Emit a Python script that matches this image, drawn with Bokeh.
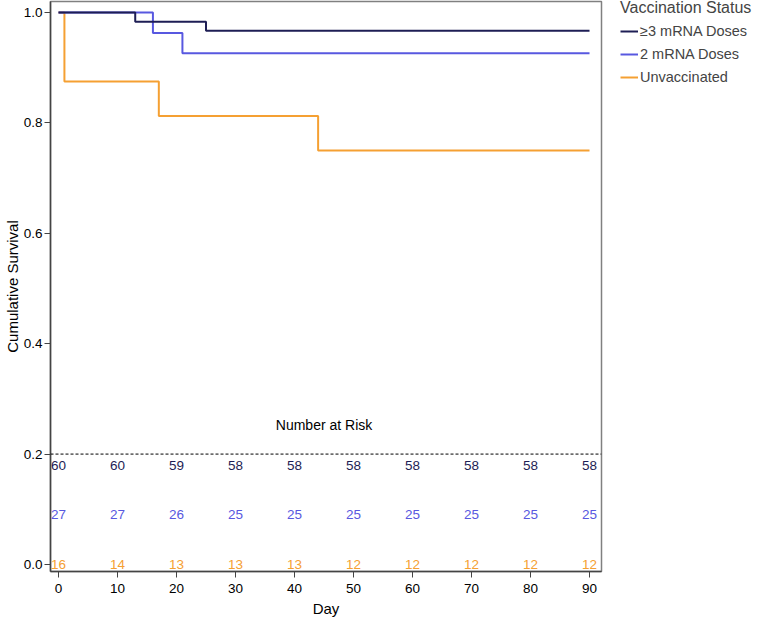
from bokeh.plotting import figure
from bokeh.models import Legend, LegendItem, Span, FixedTicker, Range1d
from bokeh.core.properties import value
from bokeh.embed import file_html
from bokeh.resources import INLINE

# ---- data ----
days_3 = [0, 13, 25, 90]
surv_3 = [1.0, 0.9833, 0.9667, 0.9667]
days_2 = [0, 16, 21, 90]
surv_2 = [1.0, 0.963, 0.926, 0.926]
days_u = [0, 1, 17, 44, 90]
surv_u = [1.0, 0.875, 0.8125, 0.75, 0.75]

risk_days = [0, 10, 20, 30, 40, 50, 60, 70, 80, 90]
risk_3 = [60, 60, 59, 58, 58, 58, 58, 58, 58, 58]
risk_2 = [27, 27, 26, 25, 25, 25, 25, 25, 25, 25]
risk_u = [16, 14, 13, 13, 13, 12, 12, 12, 12, 12]

labels = ["\u22653 mRNA Doses", "2 mRNA Doses", "Unvaccinated"]
colors = ["#1e1e55", "#5858e0", "#f5a032"]

x_ticks = [0, 10, 20, 30, 40, 50, 60, 70, 80, 90]
y_ticks = [0.0, 0.2, 0.4, 0.6, 0.8, 1.0]

FONT = "Liberation Sans"

p = figure(frame_width=551, frame_height=570, output_backend="svg",
           toolbar_location=None, x_range=Range1d(-1.36, 92.03),
           y_range=Range1d(-0.0127, 1.0199), min_border_left=0,
           min_border_top=1, min_border_bottom=0, min_border_right=165)
p.background_fill_color = "white"
p.border_fill_color = "white"
p.outline_line_color = "#808080"
p.outline_line_width = 1.5
p.xgrid.visible = False
p.ygrid.visible = False

# curves (orange first, navy on top)
r_u = p.step(days_u, surv_u, mode="after", line_color=colors[2], line_width=2)
r_2 = p.step(days_2, surv_2, mode="after", line_color=colors[1], line_width=2)
r_3 = p.step(days_3, surv_3, mode="after", line_color=colors[0], line_width=2)

# number at risk
p.add_layout(Span(location=0.2, dimension="width", line_color="black",
                  line_width=1, line_dash="3 2"))
p.text(x=[45], y=[0.252], text=["Number at Risk"], text_align="center",
       text_baseline="middle", text_font=value(FONT), text_font_size="14px",
       text_color="black")
for vals, yy, c in [(risk_3, 0.179, colors[0]), (risk_2, 0.0906, colors[1]),
                    (risk_u, 0.0, colors[2])]:
    p.text(x=risk_days, y=[yy] * len(risk_days), text=[str(v) for v in vals],
           text_align="center", text_baseline="middle",
           text_font=value(FONT), text_font_size="13.5px", text_color=c)

# axes
for ax in (p.xaxis[0], p.yaxis[0]):
    ax.major_label_text_font = FONT
    ax.major_label_text_font_size = "13.5px"
    ax.major_label_text_color = "black"
    ax.axis_label_text_font = FONT
    ax.axis_label_text_font_size = "15px"
    ax.axis_label_text_font_style = "normal"
    ax.axis_label_text_color = "black"
    ax.major_tick_out = 6
    ax.major_tick_in = 0
    ax.minor_tick_out = 0
    ax.minor_tick_in = 0
    ax.axis_line_color = "#444444"
    ax.major_tick_line_color = "#444444"
    ax.axis_line_width = 1.5
p.xaxis.ticker = FixedTicker(ticks=x_ticks)
p.yaxis.ticker = FixedTicker(ticks=y_ticks)
p.yaxis.major_label_overrides = {t: f"{t:.1f}" for t in y_ticks}
p.xaxis.axis_label = "Day"
p.yaxis.axis_label = "Cumulative Survival"
p.xaxis.major_label_standoff = 6
p.xaxis.axis_label_standoff = 4
p.yaxis.major_label_standoff = 2
p.yaxis.axis_label_standoff = 0

legend = Legend(items=[LegendItem(label=labels[0], renderers=[r_3]),
                       LegendItem(label=labels[1], renderers=[r_2]),
                       LegendItem(label=labels[2], renderers=[r_u])],
                title="Vaccination Status", location=(19, 485))
legend.title_text_font = FONT
legend.title_text_font_size = "16px"
legend.title_text_font_style = "normal"
legend.title_standoff = 5
legend.label_text_font = FONT
legend.label_text_font_size = "14.5px"
legend.border_line_color = None
legend.background_fill_alpha = 0
legend.glyph_width = 18
legend.glyph_height = 16
legend.label_height = 18
legend.label_standoff = 2
legend.spacing = 5
legend.padding = 0
legend.margin = 0
p.add_layout(legend, "right")

open("out.html", "w").write(file_html(p, INLINE))
